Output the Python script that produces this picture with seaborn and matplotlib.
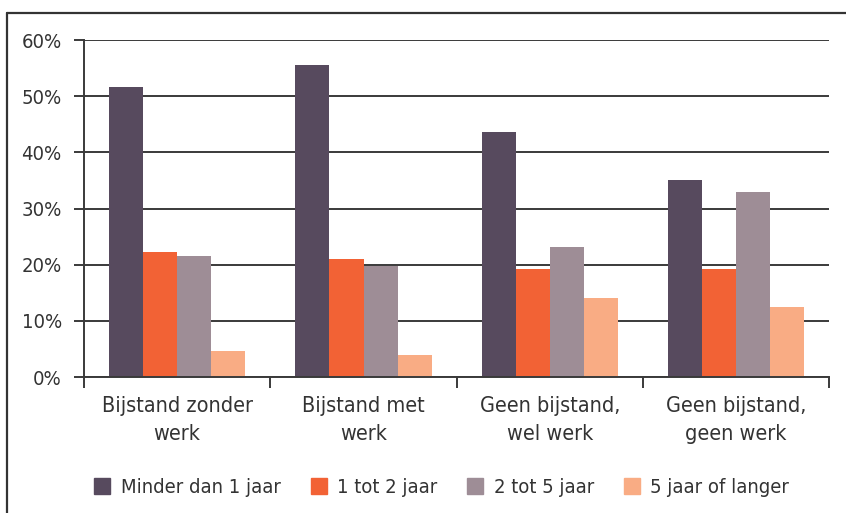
import pandas as pd
import matplotlib.pyplot as plt
import seaborn as sns
from matplotlib.lines import Line2D

categories = ['Bijstand zonder\nwerk', 'Bijstand met\nwerk', 'Geen bijstand,\nwel werk', 'Geen bijstand,\ngeen werk']
durations = ['Minder dan 1 jaar', '1 tot 2 jaar', '2 tot 5 jaar', '5 jaar of langer']
minder_1 = [51.6, 55.5, 43.6, 35.0]
tot_2 = [22.2, 21.0, 19.3, 19.3]
tot_5 = [21.5, 19.7, 23.1, 32.9]
langer_5 = [4.6, 4.0, 14.0, 12.4]
colors = ['#574a5e', '#f26235', '#9e8d96', '#f9ac84']

rows = []
for dur, vals in zip(durations, [minder_1, tot_2, tot_5, langer_5]):
    for cat, v in zip(categories, vals):
        rows.append({'groep': cat, 'duur': dur, 'pct': v})
df = pd.DataFrame(rows)

sns.set_style('white')
plt.rcParams['font.family'] = ['DejaVu Sans']
plt.rcParams['font.stretch'] = 'condensed'

fig = plt.figure(figsize=(8.46, 5.13), dpi=100)
ax = fig.add_axes([0.0993, 0.265, 0.881, 0.657])

sns.barplot(data=df, x='groep', y='pct', hue='duur', order=categories,
            hue_order=durations, palette=colors, width=0.73, saturation=1,
            linewidth=0, ax=ax, legend=False)

ax.set_ylim(0, 60)
ax.set_xlim(-0.5, 3.5)
ax.set_yticks(range(0, 61, 10))
ax.set_yticklabels([f'{t}%' for t in range(0, 61, 10)], fontsize=14.5, color='#333333')
ax.yaxis.grid(True, color='#3a3a3a', linewidth=1.4)
ax.set_axisbelow(True)
ax.set_xlabel('')
ax.set_ylabel('')

for s in ['top', 'right']:
    ax.spines[s].set_visible(False)
for s in ['left', 'bottom']:
    ax.spines[s].set_color('#3a3a3a')
    ax.spines[s].set_linewidth(1.4)

# ticks between the groups, labels centred under them
ax.set_xticks([-0.5, 0.5, 1.5, 2.5, 3.5], minor=False)
ax.set_xticklabels([])
ax.set_xticks([0, 1, 2, 3], minor=True)
ax.set_xticklabels(categories, minor=True, fontsize=15.5, color='#333333', linespacing=1.5)
ax.tick_params(axis='x', which='major', direction='out', length=8, width=1.4, color='#3a3a3a', bottom=True)
ax.tick_params(axis='x', which='minor', length=0, pad=14)
ax.tick_params(axis='y', direction='out', length=7, width=1.4, color='#3a3a3a', left=True, pad=9)

handles = [Line2D([0], [0], marker='s', linestyle='', markersize=11,
                  markerfacecolor=c, markeredgecolor=c) for c in colors]
fig.legend(handles, durations, loc='center', bbox_to_anchor=(0.515, 0.05), ncol=4,
           frameon=False, fontsize=14.5, handletextpad=-0.1, columnspacing=0.9,
           labelcolor='#333333')

# border of the surrounding box
fig.add_artist(Line2D([7 / 846, 7 / 846], [0, 1 - 13 / 513], transform=fig.transFigure,
                      color='#333333', linewidth=1.6))
fig.add_artist(Line2D([7 / 846, 1], [1 - 13 / 513, 1 - 13 / 513], transform=fig.transFigure,
                      color='#333333', linewidth=1.6))

fig.savefig('out.png', dpi=100)
